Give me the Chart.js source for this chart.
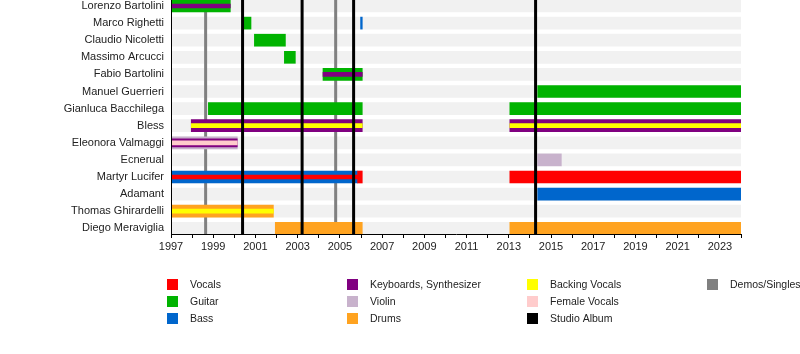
<!DOCTYPE html>
<html>
<head>
<meta charset="utf-8">
<script src="https://cdn.jsdelivr.net/npm/chart.js@4/dist/chart.umd.min.js"></script>
<style>
  body { margin: 0; background: #fff; }
  canvas { display: block; }
</style>
</head>
<body>
<canvas id="timelineChart" width="800" height="354"></canvas>
<script>
// Band members, top to bottom
const members = [
    'Lorenzo Bartolini', 'Marco Righetti', 'Claudio Nicoletti', 'Massimo Arcucci',
    'Fabio Bartolini', 'Manuel Guerrieri', 'Gianluca Bacchilega', 'Bless',
    'Eleonora Valmaggi', 'Ecnerual', 'Martyr Lucifer', 'Adamant',
    'Thomas Ghirardelli', 'Diego Meraviglia'
];

// Periods as [member row, start, end]
const vocals = [[10, 2005.84, 2006.06], [10, 2013.05, 2024]];
const vocalsStripe = [[10, 1997, 2005.84]];
const guitar = [
    [0, 1997, 1999.81], [1, 2000.43, 2000.79], [2, 2000.95, 2002.42], [3, 2002.37, 2002.89],
    [4, 2004.2, 2006.06], [5, 2014.37, 2024], [6, 1998.77, 2006.06], [6, 2013.05, 2024]
];
const bass = [[1, 2005.98, 2006.06], [10, 1997, 2005.84], [11, 2014.37, 2024]];
const keyboards = [[7, 1997.96, 2006.06], [7, 2013.05, 2024]];
const keyboardsMid = [[8, 1997, 2000.14]];
const keyboardsStripe = [[0, 1997, 1999.81], [4, 2004.2, 2006.06]];
const violin = [[8, 1997, 2000.14], [9, 2014.37, 2015.49]];
const drums = [[12, 1997, 2001.85], [13, 2001.94, 2006.06], [13, 2013.05, 2024]];
const backingStripe = [[7, 1997.96, 2006.06], [7, 2013.05, 2024], [12, 1997, 2001.85]];
const femaleStripe = [[8, 1997, 2000.14]];

// Vertical markers
const studioAlbums = [2000.39, 2003.21, 2005.65, 2014.27];
const demosSingles = [1998.64, 2004.8];

const yearStart = 1997;
const yearEnd = 2024;

const colors = {
    vocals: '#ff0000',
    guitar: '#00b300',
    bass: '#0066cc',
    keyboards: '#800080',
    violin: '#c8b2cc',
    drums: '#ffa320',
    backing: '#ffff00',
    female: '#ffcccc',
    album: '#000000',
    demo: '#808080'
};

const legendItems = [
    ['Vocals', colors.vocals], ['Guitar', colors.guitar], ['Bass', colors.bass],
    ['Keyboards, Synthesizer', colors.keyboards], ['Violin', colors.violin], ['Drums', colors.drums],
    ['Backing Vocals', colors.backing], ['Female Vocals', colors.female], ['Studio Album', colors.album],
    ['Demos/Singles', colors.demo]
];

const fontFamily = "'Liberation Sans', Arial, sans-serif";

function makeDataset(label, periods, color, thickness, order) {
    return {
        label: label,
        data: periods.map(p => ({ x: [p[1], p[2]], y: p[0] })),
        backgroundColor: color,
        barThickness: thickness,
        grouped: false,
        borderSkipped: false,
        borderWidth: 0,
        order: order
    };
}

const bands = members.map((m, i) => [i, yearStart, yearEnd]);

const datasets = [
    makeDataset('band', bands, '#f1f1f1', 12, 10),
    makeDataset('Vocals', vocals, colors.vocals, 12, 5),
    makeDataset('Guitar', guitar, colors.guitar, 12, 5),
    makeDataset('Bass', bass, colors.bass, 12, 5),
    makeDataset('Keyboards', keyboards, colors.keyboards, 12, 5),
    makeDataset('Violin', violin, colors.violin, 12, 5),
    makeDataset('Drums', drums, colors.drums, 12, 5),
    makeDataset('Keyboards mid', keyboardsMid, colors.keyboards, 8, 3),
    makeDataset('Vocals stripe', vocalsStripe, colors.vocals, 4, 1),
    makeDataset('Keyboards stripe', keyboardsStripe, colors.keyboards, 4, 1),
    makeDataset('Backing stripe', backingStripe, colors.backing, 4, 1),
    makeDataset('Female stripe', femaleStripe, colors.female, 4, 1)
];

function drawMarkers(chart, years, color) {
    const ctx = chart.ctx;
    const area = chart.chartArea;
    const xScale = chart.scales.x;
    ctx.save();
    ctx.strokeStyle = color;
    ctx.lineWidth = 3;
    years.forEach(year => {
        const px = xScale.getPixelForValue(year);
        ctx.beginPath();
        ctx.moveTo(px, area.top);
        ctx.lineTo(px, area.bottom);
        ctx.stroke();
    });
    ctx.restore();
}

function drawLegend(chart) {
    const ctx = chart.ctx;
    ctx.save();
    ctx.font = '10.5px ' + fontFamily;
    ctx.textBaseline = 'middle';
    ctx.textAlign = 'left';
    legendItems.forEach((item, i) => {
        const col = Math.floor(i / 3);
        const row = i % 3;
        const x = 167 + col * 180;
        const y = 284.5 + row * 17;
        ctx.fillStyle = item[1];
        ctx.fillRect(x, y - 5.5, 11, 11);
        ctx.fillStyle = '#222';
        ctx.fillText(item[0], x + 23, y + 0.5);
    });
    ctx.restore();
}

const timelinePlugin = {
    id: 'timelineMarkers',
    afterDatasetDraw(chart, args) {
        // demos sit above the row bands but under the bars
        if (args.index === 0) drawMarkers(chart, demosSingles, colors.demo);
    },
    afterDatasetsDraw(chart) {
        drawMarkers(chart, studioAlbums, colors.album);
        drawLegend(chart);
    }
};

const rowPx = 17.1;
const plotBottom = 234;

new Chart(document.getElementById('timelineChart').getContext('2d'), {
    type: 'bar',
    data: { datasets: datasets },
    plugins: [timelinePlugin],
    options: {
        indexAxis: 'y',
        responsive: false,
        animation: false,
        layout: { padding: { left: 0, right: 59, top: 0, bottom: 0 } },
        plugins: {
            legend: { display: false },
            tooltip: { enabled: false }
        },
        scales: {
            x: {
                type: 'linear',
                min: yearStart,
                max: yearEnd,
                grid: { drawOnChartArea: false, drawTicks: true, tickLength: 4, color: '#000' },
                border: { display: true, color: '#000', width: 1, z: 1 },
                ticks: {
                    stepSize: 1,
                    autoSkip: false,
                    maxRotation: 0,
                    padding: 2,
                    color: '#222',
                    font: { family: fontFamily, size: 11 },
                    callback: v => (v % 2 === 1 ? String(v) : '')
                },
                afterFit: function(scale) {
                    scale.height = 354 - plotBottom;
                    scale.paddingLeft = 0;
                    scale.paddingRight = 0;
                }
            },
            y: {
                type: 'linear',
                reverse: true,
                offset: false,
                min: -6 / rowPx,
                max: -6 / rowPx + plotBottom / rowPx,
                grid: { display: false, drawTicks: false, offset: false },
                border: { display: true, color: '#000', width: 1, z: 1 },
                ticks: {
                    stepSize: 1,
                    autoSkip: false,
                    includeBounds: false,
                    padding: 7,
                    color: '#222',
                    font: { family: fontFamily, size: 11 },
                    callback: v => (Number.isInteger(v) && members[v] ? members[v] : '')
                },
                afterFit: function(scale) {
                    scale.width = 171;
                    scale.paddingTop = 0;
                    scale.paddingBottom = 0;
                }
            }
        }
    }
});
</script>
</body>
</html>
